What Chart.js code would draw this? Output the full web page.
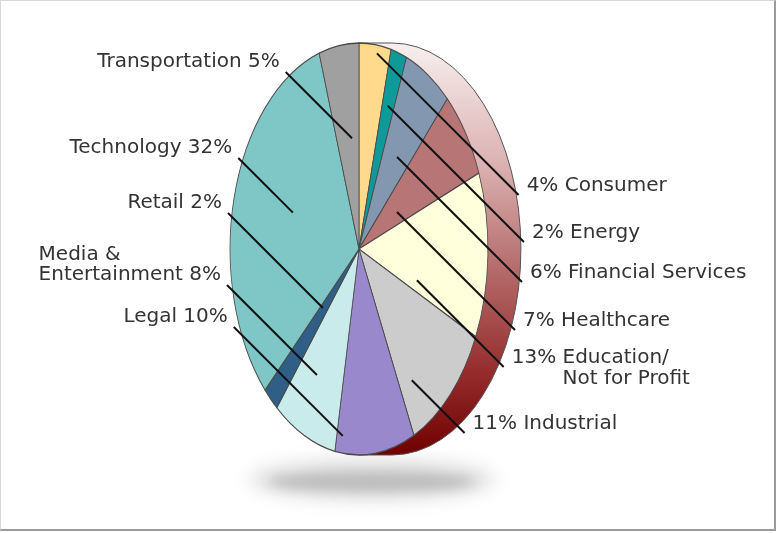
<!DOCTYPE html>
<html lang="en">
<head>
<meta charset="UTF-8">
<title>Clients by Industry</title>
<script src="https://cdn.jsdelivr.net/npm/chart.js"></script>
<style>
  html, body { margin: 0; padding: 0; background: #fff; }
  #wrap { position: relative; width: 776px; height: 533px; }
  #frame {
    position: absolute; left: 0; top: 0; width: 773px; height: 528px;
    border-left: 1px solid #d8d8d8; border-top: 1px solid #d8d8d8;
    border-right: 2px solid #9a9a9a; border-bottom: 2px solid #9a9a9a;
  }
  canvas { position: absolute; left: 0; top: 0; }
</style>
</head>
<body>
<div id="wrap">
  <div id="frame"></div>
  <canvas id="chart" width="776" height="533"></canvas>
</div>
<script>
const industries = ['Consumer', 'Energy', 'Financial Services', 'Healthcare', 'Education/\nNot for Profit',
  'Industrial', 'Legal', 'Media &\nEntertainment', 'Retail', 'Technology', 'Transportation'];
const shares = [4, 2, 6, 7, 13, 11, 10, 8, 2, 32, 5];
const sliceColors = ['#ffd98c', '#0f9a9a', '#8497b0', '#b87575', '#ffffdc', '#cccccc',
  '#9988cc', '#c9ebeb', '#2f5f86', '#7fc7c7', '#a0a0a0'];

// where each leader line touches its slice: share of the slice's sweep, share of the radius
const leaderT = [0.58, 0.47, 0.55, 0.61, 0.86, 0.81, 0.92, 0.6, 0.65, 0.54, 0.68];
const leaderF = [0.96, 0.73, 0.535, 0.345, 0.474, 0.757, 0.916, 0.693, 0.4, 0.542, 0.54];
// y of the outer (label) end of each leader line
const leaderEndY = [195, 242, 282, 330, 367, 433, 327, 285, 213, 158, 72];

const SQUASH = 0.626; // pie is tilted, so the face is an ellipse
const DEPTH = 0.16;   // visible rim thickness, share of radius

const tiltedPie = {
  id: 'tiltedPie',
  beforeDatasetsDraw(chart) {
    const ctx = chart.ctx;
    const {x, y, outerRadius: r} = chart.getDatasetMeta(0).data[0];
    const rx = r * SQUASH, d = r * DEPTH;

    // soft floor shadow: wide pale halo plus a darker core
    const sx = x + 0.063 * r, sy = y + 1.13 * r;
    ctx.save();
    ctx.filter = 'blur(9px)';
    ctx.fillStyle = '#dedede';
    ctx.beginPath();
    ctx.ellipse(sx, sy - 2, rx * 0.95, r * 0.1, 0, 0, Math.PI * 2);
    ctx.fill();
    ctx.filter = 'blur(6px)';
    ctx.fillStyle = '#bcbcbc';
    ctx.beginPath();
    ctx.ellipse(sx, sy, rx * 0.8, r * 0.045, 0, 0, Math.PI * 2);
    ctx.fill();
    ctx.restore();

    // rim on the right side
    const g = ctx.createLinearGradient(0, y - r, 0, y + r);
    g.addColorStop(0, '#f7efef');
    g.addColorStop(0.3, '#dbb0b0');
    g.addColorStop(0.55, '#b56b6b');
    g.addColorStop(0.8, '#952c2c');
    g.addColorStop(1, '#700000');
    ctx.save();
    ctx.beginPath();
    ctx.moveTo(x, y - r);
    ctx.lineTo(x + d, y - r);
    ctx.ellipse(x + d, y, rx, r, 0, -Math.PI / 2, Math.PI / 2);
    ctx.lineTo(x, y + r);
    ctx.closePath();
    ctx.fillStyle = g;
    ctx.fill();
    ctx.strokeStyle = '#555';
    ctx.lineWidth = 1;
    ctx.stroke();
    ctx.restore();

    // squash the face horizontally
    ctx.save();
    ctx.translate(x, y);
    ctx.scale(SQUASH, 1);
    ctx.translate(-x, -y);
  },
  afterDatasetsDraw(chart) {
    const ctx = chart.ctx;
    ctx.restore();
    const meta = chart.getDatasetMeta(0);
    const total = shares.reduce((a, b) => a + b, 0);
    ctx.save();
    ctx.strokeStyle = '#111';
    ctx.lineWidth = 2;
    ctx.font = '20px "DejaVu Sans", Verdana, sans-serif';
    ctx.fillStyle = '#333';
    ctx.textBaseline = 'middle';
    ctx.textAlign = 'left';
    meta.data.forEach((el, i) => {
      const a = el.startAngle + leaderT[i] * (el.endAngle - el.startAngle);
      const ax = el.x + Math.cos(a) * leaderF[i] * el.outerRadius * SQUASH;
      const ay = el.y + Math.sin(a) * leaderF[i] * el.outerRadius;
      const left = ax < el.x;
      const ey = leaderEndY[i];
      const ex = left ? ax - (ay - ey) : ax + (ey - ay);
      ctx.beginPath();
      ctx.moveTo(ax, ay);
      ctx.lineTo(ex, ey);
      ctx.stroke();

      const pct = Math.round(shares[i] / total * 100) + '%';
      const lines = industries[i].split('\n');
      if (left) {
        lines[lines.length - 1] += ' ' + pct;
        const w = Math.max(...lines.map(s => ctx.measureText(s).width));
        const tx = ex - 6 - w;
        lines.forEach((s, k) => ctx.fillText(s, tx, ey - 10 - (lines.length - 1 - k) * 20));
      } else {
        const head = pct + ' ';
        const indent = ctx.measureText(head).width;
        lines.forEach((s, k) => ctx.fillText(k ? s : head + s, ex + 8 + (k ? indent : 0), ey - 9 + k * 21));
      }
    });
    ctx.restore();
  }
};

new Chart(document.getElementById('chart'), {
  type: 'pie',
  data: {
    labels: industries,
    datasets: [{
      data: shares,
      backgroundColor: sliceColors,
      borderColor: '#4a4a4a',
      borderWidth: 1.3,
      clip: false
    }]
  },
  options: {
    responsive: false,
    animation: false,
    events: [],
    radius: 206,
    layout: { padding: { left: 153, right: 211, top: 43, bottom: 78 } },
    plugins: { legend: { display: false }, tooltip: { enabled: false } }
  },
  plugins: [tiltedPie]
});
</script>
</body>
</html>
